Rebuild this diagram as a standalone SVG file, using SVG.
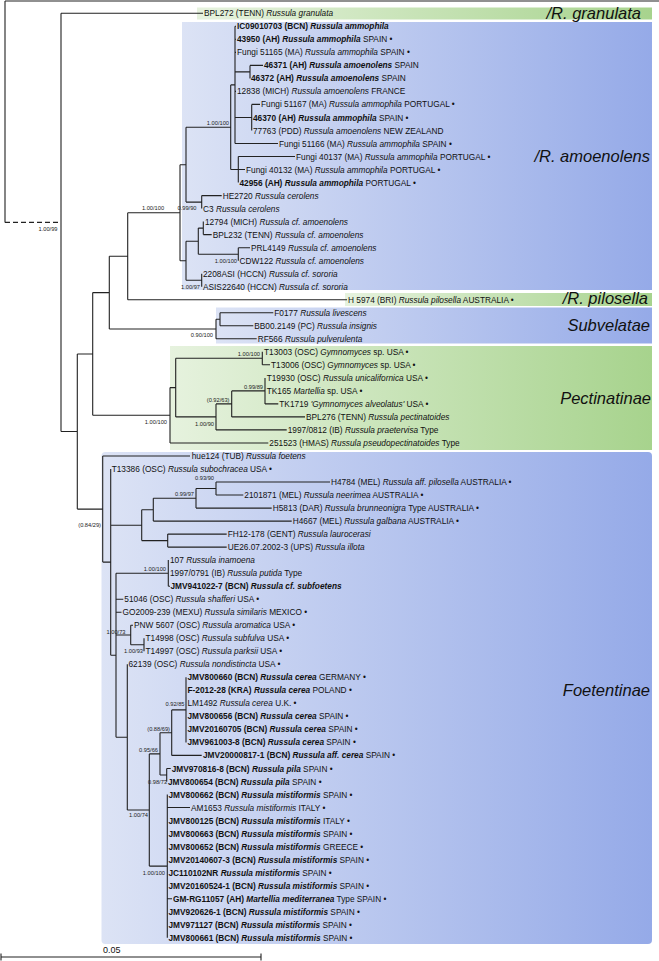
<svg xmlns="http://www.w3.org/2000/svg" width="659" height="961" viewBox="0 0 659 961">
<style>
.t{font-family:"Liberation Sans",Arial,sans-serif;font-size:8.3px;fill:#111}
.b{font-weight:bold}
.i{font-style:italic}
.s{font-family:"Liberation Sans",Arial,sans-serif;font-size:5.7px;fill:#222}
.e{text-anchor:end}
.m{text-anchor:middle}
.c{font-family:"Liberation Sans",Arial,sans-serif;font-style:italic;font-size:16.5px;fill:#111;text-anchor:end}
.ln{fill:none;stroke:#222;stroke-width:1.1}
.blue{fill:url(#gb)}
.green{fill:url(#gg)}
</style>
<defs>
<linearGradient id="gb" x1="0" y1="0" x2="1" y2="0"><stop offset="0" stop-color="#dce3f5"/><stop offset="1" stop-color="#95aae8"/></linearGradient>
<linearGradient id="gg" x1="0" y1="0" x2="1" y2="0"><stop offset="0" stop-color="#e6f2de"/><stop offset="1" stop-color="#a7d38d"/></linearGradient>
</defs>
<rect width="659" height="961" fill="#fff"/>
<g id="clade-boxes">
<rect id="box-granulata" class="green" x="197" y="7.5" width="455" height="12"/>
<rect id="box-amoenolens" class="blue" x="182" y="22" width="470" height="268"/>
<rect id="box-pilosella" class="green" x="345" y="293" width="307" height="13"/>
<rect id="box-subvelatae" class="blue" x="216" y="307.5" width="436" height="36"/>
<rect id="box-pectinatinae" class="green" x="170" y="346" width="482" height="104"/>
<rect id="box-foetentinae" class="blue" x="101.5" y="452" width="550.5" height="492" rx="4"/>
</g>
<g id="connectors">
<path class="ln" d="M5 1H659M5 1V222.4M61 13.3V431.5M61 13.3H203M61 431.5H77.3M77.3 354V509.1M77.3 354H92.7M92.7 292.6V415.3M92.7 292.6H109.3M109.3 256.2V329M109.3 256.2H127.7M127.7 212.7V299.7M127.7 299.7H347M127.7 212.7H180M180 164.7V260.7M180 164.7H186M186 127.2V202.1M186 127.2H230.7M230.7 84.9V169.5M230.7 84.9H235M235 26.3V143.5M235 26.3H236M235 39.3H236M235 52.4H236M235 91.4H236M235 71.9H250M250 65.4V78.4M250 65.4H263M235 117.5H251.7M251.7 104.4V130.5M251.7 104.4H260M235 143.5H278M230.7 169.5H238.3M238.3 156.5V182.6M238.3 156.5H295M238.3 169.5H245M186 202.1H201.7M201.7 195.6V208.6M201.7 195.6H221.7M180 260.7H186M186 241.2V280.2M186 241.2H198.3M198.3 228.1V254.2M198.3 228.1H203.3M203.3 221.6V234.6M203.3 234.6H211.7M198.3 254.2H238.3M238.3 247.7V260.7M238.3 247.7H250M186 280.2H201.7M201.7 273.7V286.7"/>
<path class="ln" d="M109.3 329H216M216 319.3V338.8M216 319.3H220M220 312.8V325.8M220 312.8H273.3M220 325.8H253.3M216 338.8H256.7"/>
<path class="ln" d="M92.7 415.3H170M170 387.6V443M170 443H268.3M170 387.6H175.7M175.7 358.3V416.9M175.7 358.3H262.3M262.3 351.8V364.8M262.3 364.8H270M175.7 416.9H216M216 403.9V429.9M216 429.9H286.7M216 403.9H231.7M231.7 390.9V416.9M231.7 416.9H305M231.7 390.9H265M265 377.9V403.9M265 403.9H278.3"/>
<path class="ln" d="M77.3 509.1H102.7M102.7 456V562.1M102.7 456H190M102.7 562.1H110.7M110.7 469V655.2M110.7 525.2H141.7M141.7 509.7V540.6M141.7 509.7H153.3M153.3 498.3V521.1M153.3 521.1H291.7M153.3 498.3H196M196 488.5V508.1M196 508.1H271.7M196 488.5H216M216 482V495M216 482H330M216 495H243.3M141.7 540.6H167.7M167.7 534.1V547.1M167.7 534.1H226.7M167.7 547.1H226.7M110.7 655.2H116M116 573.2V737.2M116 573.2H168.3M168.3 560.1V586.2M168.3 586.2H170M116 599.2H123.3M116 612.2H121.5M116 635H130.7M130.7 625.2V644.8M130.7 625.2H133M130.7 644.8H144M144 638.3V651.3M116 737.2H127.3M127.3 664.3V810M127.3 810H149.3M149.3 753.9V866.1M149.3 753.9H160M160 732.7V775M160 732.7H171.7M171.7 709.9V755.4M171.7 709.9H186M186 677.3V742.4M171.7 755.4H201.7M160 775H166.7M166.7 768.5V781.5M166.7 768.5H170.7M149.3 866.1H167.3M167.3 794.5V937.7M167.3 807.5H190M167.3 898.7H172"/>
<path class="ln" d="M5 222.4H61" stroke-dasharray="5 3"/>
</g>
<g id="support-values">
<text class="s m" x="48" y="231">1.00/99</text>
<text class="s e" x="229" y="125">1.00/100</text>
<text class="s m" x="187" y="210">0.99/90</text>
<text class="s m" x="153" y="210">1.00/100</text>
<text class="s e" x="237" y="263">1.00/100</text>
<text class="s e" x="200" y="289">1.00/97</text>
<text class="s e" x="213" y="337">0.90/100</text>
<text class="s e" x="260" y="356">1.00/100</text>
<text class="s e" x="263" y="389">0.99/89</text>
<text class="s e" x="229.5" y="402">(0.92/63)</text>
<text class="s e" x="214" y="426">1.00/90</text>
<text class="s e" x="167" y="424">1.00/100</text>
<text class="s e" x="101" y="527">(0.84/29)</text>
<text class="s e" x="214" y="480">0.93/90</text>
<text class="s e" x="194" y="496">0.99/97</text>
<text class="s e" x="166" y="571">1.00/100</text>
<text class="s" x="106.5" y="634">1.00/73</text>
<text class="s e" x="143" y="653">1.00/93</text>
<text class="s e" x="184.5" y="706">0.92/85</text>
<text class="s e" x="170" y="731">(0.88/69)</text>
<text class="s e" x="158" y="752">0.95/66</text>
<text class="s e" x="167" y="784">0.98/73</text>
<text class="s e" x="148" y="817">1.00/74</text>
<text class="s e" x="165" y="875">1.00/100</text>
</g>
<g id="tips">
<g id="n0"><text class="t" x="204" y="16.3">BPL272 (TENN) <tspan class="i">Russula granulata</tspan></text></g>
<g id="n1"><text class="t b" x="237" y="29.3">IC09010703 (BCN) <tspan class="i">Russula ammophila</tspan></text></g>
<g id="n2"><text class="t" x="237" y="42.3"><tspan class="b">43950 (AH) </tspan><tspan class="b i">Russula ammophila</tspan> SPAIN •</text></g>
<g id="n3"><text class="t" x="237" y="55.4">Fungi 51165 (MA) <tspan class="i">Russula ammophila</tspan> SPAIN •</text></g>
<g id="n4"><text class="t" x="264" y="68.4"><tspan class="b">46371 (AH) </tspan><tspan class="b i">Russula amoenolens</tspan> SPAIN</text></g>
<g id="n5"><text class="t" x="251" y="81.4"><tspan class="b">46372 (AH) </tspan><tspan class="b i">Russula amoenolens</tspan> SPAIN</text></g>
<g id="n6"><text class="t" x="237" y="94.4">12838 (MICH) <tspan class="i">Russula amoenolens</tspan> FRANCE</text></g>
<g id="n7"><text class="t" x="261" y="107.4">Fungi 51167 (MA) <tspan class="i">Russula ammophila</tspan> PORTUGAL •</text></g>
<g id="n8"><text class="t" x="253" y="120.5"><tspan class="b">46370 (AH) </tspan><tspan class="b i">Russula ammophila</tspan> SPAIN •</text></g>
<g id="n9"><text class="t" x="253" y="133.5">77763 (PDD) <tspan class="i">Russula amoenolens</tspan> NEW ZEALAND</text></g>
<g id="n10"><text class="t" x="279" y="146.5">Fungi 51166 (MA) <tspan class="i">Russula ammophila</tspan> SPAIN •</text></g>
<g id="n11"><text class="t" x="296" y="159.5">Fungi 40137 (MA) <tspan class="i">Russula ammophila</tspan> PORTUGAL •</text></g>
<g id="n12"><text class="t" x="246" y="172.5">Fungi 40132 (MA) <tspan class="i">Russula ammophila</tspan> PORTUGAL •</text></g>
<g id="n13"><text class="t" x="239.5" y="185.6"><tspan class="b">42956 (AH) </tspan><tspan class="b i">Russula ammophila</tspan> PORTUGAL •</text></g>
<g id="n14"><text class="t" x="222.7" y="198.6">HE2720 <tspan class="i">Russula cerolens</tspan></text></g>
<g id="n15"><text class="t" x="203" y="211.6">C3 <tspan class="i">Russula cerolens</tspan></text></g>
<g id="n16"><text class="t" x="205" y="224.6">12794 (MICH) <tspan class="i">Russula cf. amoenolens</tspan></text></g>
<g id="n17"><text class="t" x="212.7" y="237.6">BPL232 (TENN) <tspan class="i">Russula cf. amoenolens</tspan></text></g>
<g id="n18"><text class="t" x="251" y="250.7">PRL4149 <tspan class="i">Russula cf. amoenolens</tspan></text></g>
<g id="n19"><text class="t" x="239.5" y="263.7">CDW122 <tspan class="i">Russula cf. amoenolens</tspan></text></g>
<g id="n20"><text class="t" x="203" y="276.7">2208ASI (HCCN) <tspan class="i">Russula cf. sororia</tspan></text></g>
<g id="n21"><text class="t" x="203" y="289.7">ASIS22640 (HCCN) <tspan class="i">Russula cf. sororia</tspan></text></g>
<g id="n22"><text class="t" x="348" y="302.7">H 5974 (BRI) <tspan class="i">Russula pilosella</tspan> AUSTRALIA •</text></g>
<g id="n23"><text class="t" x="274.3" y="315.8">F0177 <tspan class="i">Russula livescens</tspan></text></g>
<g id="n24"><text class="t" x="254.3" y="328.8">BB00.2149 (PC) <tspan class="i">Russula insignis</tspan></text></g>
<g id="n25"><text class="t" x="257.7" y="341.8">RF566 <tspan class="i">Russula pulverulenta</tspan></text></g>
<g id="n26"><text class="t" x="264" y="354.8">T13003 (OSC) <tspan class="i">Gymnomyces</tspan> sp. USA •</text></g>
<g id="n27"><text class="t" x="271" y="367.8">T13006 (OSC) <tspan class="i">Gymnomyces</tspan> sp. USA •</text></g>
<g id="n28"><text class="t" x="266.7" y="380.9">T19930 (OSC) <tspan class="i">Russula unicalifornica</tspan> USA •</text></g>
<g id="n29"><text class="t" x="266.7" y="393.9">TK165 <tspan class="i">Martellia</tspan> sp. USA •</text></g>
<g id="n30"><text class="t" x="279.3" y="406.9">TK1719 <tspan class="i">'Gymnomyces alveolatus'</tspan> USA •</text></g>
<g id="n31"><text class="t" x="306" y="419.9">BPL276 (TENN) <tspan class="i">Russula pectinatoides</tspan></text></g>
<g id="n32"><text class="t" x="287.7" y="432.9">1997/0812 (IB) <tspan class="i">Russula praetervisa</tspan> Type</text></g>
<g id="n33"><text class="t" x="269.3" y="446">251523 (HMAS) <tspan class="i">Russula pseudopectinatoides</tspan> Type</text></g>
<g id="n34"><text class="t" x="191.7" y="459">hue124 (TUB) <tspan class="i">Russula foetens</tspan></text></g>
<g id="n35"><text class="t" x="111.7" y="472">T13386 (OSC) <tspan class="i">Russula subochracea</tspan> USA •</text></g>
<g id="n36"><text class="t" x="331" y="485">H4784 (MEL) <tspan class="i">Russula aff. pilosella</tspan> AUSTRALIA •</text></g>
<g id="n37"><text class="t" x="244.3" y="498">2101871 (MEL) <tspan class="i">Russula neerimea</tspan> AUSTRALIA •</text></g>
<g id="n38"><text class="t" x="272.7" y="511.1">H5813 (DAR) <tspan class="i">Russula brunneonigra</tspan> Type AUSTRALIA •</text></g>
<g id="n39"><text class="t" x="292.7" y="524.1">H4667 (MEL) <tspan class="i">Russula galbana</tspan> AUSTRALIA •</text></g>
<g id="n40"><text class="t" x="227.7" y="537.1">FH12-178 (GENT) <tspan class="i">Russula laurocerasi</tspan></text></g>
<g id="n41"><text class="t" x="227.7" y="550.1">UE26.07.2002-3 (UPS) <tspan class="i">Russula illota</tspan></text></g>
<g id="n42"><text class="t" x="170" y="563.1">107 <tspan class="i">Russula inamoena</tspan></text></g>
<g id="n43"><text class="t" x="170" y="576.2">1997/0791 (IB) <tspan class="i">Russula putida</tspan> Type</text></g>
<g id="n44"><text class="t b" x="170.5" y="589.2">JMV941022-7 (BCN) <tspan class="i">Russula cf. subfoetens</tspan></text></g>
<g id="n45"><text class="t" x="124.3" y="602.2">51046 (OSC) <tspan class="i">Russula shafferi</tspan> USA •</text></g>
<g id="n46"><text class="t" x="122.5" y="615.2">GO2009-239 (MEXU) <tspan class="i">Russula similaris</tspan> MEXICO •</text></g>
<g id="n47"><text class="t" x="134" y="628.2">PNW 5607 (OSC) <tspan class="i">Russula aromatica</tspan> USA •</text></g>
<g id="n48"><text class="t" x="145.5" y="641.3">T14998 (OSC) <tspan class="i">Russula subfulva</tspan> USA •</text></g>
<g id="n49"><text class="t" x="145.5" y="654.3">T14997 (OSC) <tspan class="i">Russula parksii</tspan> USA •</text></g>
<g id="n50"><text class="t" x="128.5" y="667.3">62139 (OSC) <tspan class="i">Russula nondistincta</tspan> USA •</text></g>
<g id="n51"><text class="t" x="187.5" y="680.3"><tspan class="b">JMV800660 (BCN) </tspan><tspan class="b i">Russula cerea</tspan> GERMANY •</text></g>
<g id="n52"><text class="t" x="187.5" y="693.3"><tspan class="b">F-2012-28 (KRA) </tspan><tspan class="b i">Russula cerea</tspan> POLAND •</text></g>
<g id="n53"><text class="t" x="187.5" y="706.4">LM1492 <tspan class="i">Russula cerea</tspan> U.K. •</text></g>
<g id="n54"><text class="t" x="187.5" y="719.4"><tspan class="b">JMV800656 (BCN) </tspan><tspan class="b i">Russula cerea</tspan> SPAIN •</text></g>
<g id="n55"><text class="t" x="187.5" y="732.4"><tspan class="b">JMV20160705 (BCN) </tspan><tspan class="b i">Russula cerea</tspan> SPAIN •</text></g>
<g id="n56"><text class="t" x="187.5" y="745.4"><tspan class="b">JMV961003-8 (BCN) </tspan><tspan class="b i">Russula cerea</tspan> SPAIN •</text></g>
<g id="n57"><text class="t" x="203" y="758.4"><tspan class="b">JMV20000817-1 (BCN) </tspan><tspan class="b i">Russula aff. cerea</tspan> SPAIN •</text></g>
<g id="n58"><text class="t" x="171.7" y="771.5"><tspan class="b">JMV970816-8 (BCN) </tspan><tspan class="b i">Russula pila</tspan> SPAIN •</text></g>
<g id="n59"><text class="t" x="168" y="784.5"><tspan class="b">JMV800654 (BCN) </tspan><tspan class="b i">Russula pila</tspan> SPAIN •</text></g>
<g id="n60"><text class="t" x="168.5" y="797.5"><tspan class="b">JMV800662 (BCN) </tspan><tspan class="b i">Russula mistiformis</tspan> SPAIN •</text></g>
<g id="n61"><text class="t" x="191" y="810.5">AM1653 <tspan class="i">Russula mistiformis</tspan> ITALY •</text></g>
<g id="n62"><text class="t" x="168.5" y="823.5"><tspan class="b">JMV800125 (BCN) </tspan><tspan class="b i">Russula mistiformis</tspan> ITALY •</text></g>
<g id="n63"><text class="t" x="168.5" y="836.6"><tspan class="b">JMV800663 (BCN) </tspan><tspan class="b i">Russula mistiformis</tspan> SPAIN •</text></g>
<g id="n64"><text class="t" x="168.5" y="849.6"><tspan class="b">JMV800652 (BCN) </tspan><tspan class="b i">Russula mistiformis</tspan> GREECE •</text></g>
<g id="n65"><text class="t" x="168.5" y="862.6"><tspan class="b">JMV20140607-3 (BCN) </tspan><tspan class="b i">Russula mistiformis</tspan> SPAIN •</text></g>
<g id="n66"><text class="t" x="168.5" y="875.6"><tspan class="b">JC110102NR </tspan><tspan class="b i">Russula mistiformis</tspan> SPAIN •</text></g>
<g id="n67"><text class="t" x="168.5" y="888.6"><tspan class="b">JMV20160524-1 (BCN) </tspan><tspan class="b i">Russula mistiformis</tspan> SPAIN •</text></g>
<g id="n68"><text class="t" x="173" y="901.7"><tspan class="b">GM-RG11057 (AH) </tspan><tspan class="b i">Martellia mediterranea</tspan> Type SPAIN •</text></g>
<g id="n69"><text class="t" x="168.5" y="914.7"><tspan class="b">JMV920626-1 (BCN) </tspan><tspan class="b i">Russula mistiformis</tspan> SPAIN •</text></g>
<g id="n70"><text class="t" x="168.5" y="927.7"><tspan class="b">JMV971127 (BCN) </tspan><tspan class="b i">Russula mistiformis</tspan> SPAIN •</text></g>
<g id="n71"><text class="t" x="168.5" y="940.7"><tspan class="b">JMV800661 (BCN) </tspan><tspan class="b i">Russula mistiformis</tspan> SPAIN •</text></g>
</g>
<g id="clade-labels">
<text class="c" x="641" y="19">/R. granulata</text>
<text class="c" x="650" y="162">/R. amoenolens</text>
<text class="c" x="648" y="304">/R. pilosella</text>
<text class="c" x="650" y="331">Subvelatae</text>
<text class="c" x="651" y="404">Pectinatinae</text>
<text class="c" x="650" y="696">Foetentinae</text>
</g>
<g id="scale-bar">
<path class="ln" d="M1 957H261M1 953.5V960.5M261 953.5V960.5"/>
<text class="t" x="103" y="953" style="font-size:9px">0.05</text>
</g>
</svg>
